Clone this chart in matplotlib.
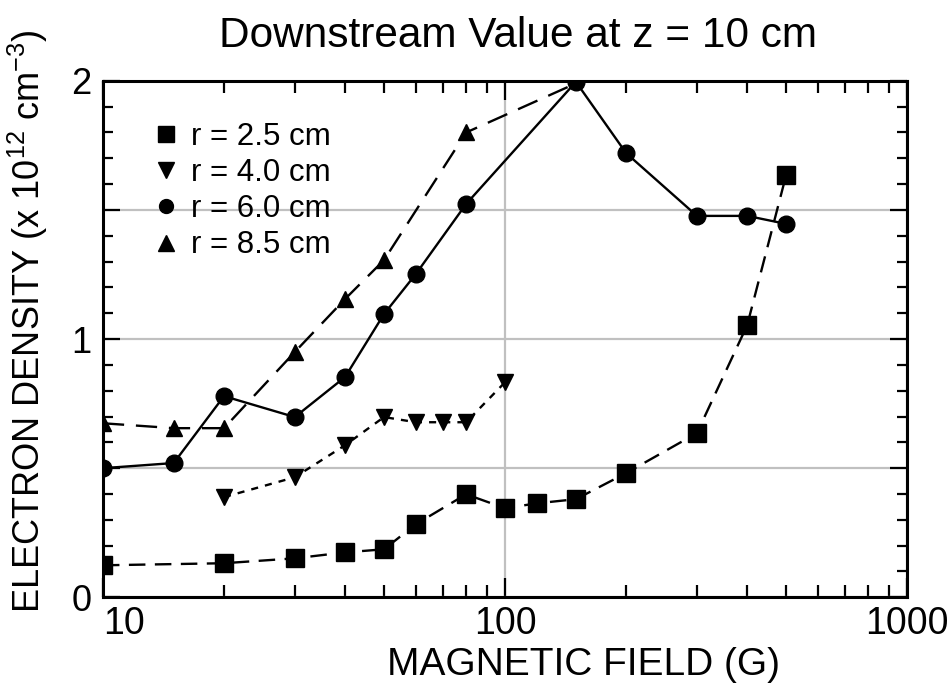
import numpy as np
import matplotlib
matplotlib.use("Agg")
import matplotlib.pyplot as plt
from matplotlib.ticker import MultipleLocator, FuncFormatter, NullFormatter, LogLocator

plt.rcParams['font.family'] = ['Liberation Sans', 'DejaVu Sans']
plt.rcParams['mathtext.fontset'] = 'custom'
plt.rcParams['mathtext.rm'] = 'Liberation Sans'
plt.rcParams['mathtext.default'] = 'regular'

# r = 2.5 cm
b_sq = [10, 20, 30, 40, 50, 60, 80, 100, 120, 150, 200, 300, 400, 500]
n_sq = [0.124, 0.132, 0.151, 0.174, 0.186, 0.283, 0.399, 0.345, 0.364, 0.38, 0.481, 0.636, 1.054, 1.636]

# r = 4.0 cm
b_dn = [20, 30, 40, 50, 60, 70, 80, 100]
n_dn = [0.388, 0.465, 0.589, 0.698, 0.678, 0.678, 0.678, 0.833]

# r = 6.0 cm
b_ci = [10, 15, 20, 30, 40, 50, 60, 80, 150, 200, 300, 400, 500]
n_ci = [0.5, 0.52, 0.779, 0.698, 0.853, 1.097, 1.252, 1.523, 1.996, 1.72, 1.477, 1.477, 1.446]

# r = 8.5 cm (last point hidden under the peak circle)
b_up = [10, 15, 20, 30, 40, 50, 80, 150]
n_up = [0.674, 0.655, 0.655, 0.95, 1.155, 1.306, 1.80, 1.99]

labels = ['r = 2.5 cm', 'r = 4.0 cm', 'r = 6.0 cm', 'r = 8.5 cm']

fig = plt.figure(figsize=(9.53, 6.85), dpi=100)
ax = fig.add_axes([0.108, 0.128, 0.844, 0.754])

ax.plot(b_sq, n_sq, color='k', lw=1.7, ls=(0, (7, 4)), marker='s', ms=13, zorder=3)
ax.plot(b_dn, n_dn, color='k', lw=1.7, ls=(0, (3, 3)), marker='v', ms=12, zorder=3)
ax.plot(b_ci, n_ci, color='k', lw=1.7, ls='-', marker='o', ms=12, zorder=4)
ax.plot(b_up, n_up, color='k', lw=1.7, ls=(0, (9, 5)), marker='^', ms=12,
        markevery=slice(0, len(b_up) - 1), zorder=3)

# legend: markers only
handles = [plt.Line2D([], [], color='k', ls='none', marker=m, ms=ms)
           for m, ms in zip(['s', 'v', 'o', '^'], [12, 11, 10, 11])]
ax.legend(handles, labels, loc='upper left', bbox_to_anchor=(0.044, 0.945),
          frameon=False, fontsize=22.5, handletextpad=0.3, labelspacing=0.2,
          handlelength=1.0, borderaxespad=0)

ax.set_xscale('log')
ax.set_xlim(10, 1000)
ax.set_ylim(0, 2)

ax.xaxis.set_major_locator(LogLocator(base=10, numticks=5))
ax.xaxis.set_minor_locator(LogLocator(base=10, subs=np.arange(2, 10), numticks=20))
ax.xaxis.set_minor_formatter(NullFormatter())
ax.xaxis.set_major_formatter(FuncFormatter(lambda v, p: '%d' % round(v)))

ax.yaxis.set_major_locator(MultipleLocator(0.5))
ax.yaxis.set_minor_locator(MultipleLocator(0.1))
ax.yaxis.set_major_formatter(FuncFormatter(
    lambda v, p: '%d' % round(v) if abs(v - round(v)) < 1e-6 else ''))

ax.tick_params(which='both', direction='in', top=True, right=True, width=1.6)
ax.tick_params(axis='x', which='major', length=14, pad=6, labelsize=27)
ax.tick_params(axis='x', which='minor', length=8.5)
ax.tick_params(axis='y', which='major', length=12, pad=8, labelsize=26)
ax.tick_params(axis='y', which='minor', length=7)

# first x label sits to the right of the corner, like the original
fig.canvas.draw()
for t in ax.get_xticklabels():
    if t.get_text() == '10':
        t.set_horizontalalignment('left')

ax.grid(True, which='major', color='#c0c0c0', lw=1.6, zorder=0)
ax.set_axisbelow(True)
for s in ax.spines.values():
    s.set_linewidth(2.2)

ax.set_title('Downstream Value at z = 10 cm', fontsize=30.5, pad=24, x=0.516)
ax.set_xlabel('MAGNETIC FIELD (G)', fontsize=28, labelpad=4, x=0.597)
ax.set_ylabel('ELECTRON DENSITY (x 10$^{12}$ cm$^{-3}$)', fontsize=26)
ax.yaxis.set_label_coords(-0.066, 0.535)

fig.savefig('out.png', dpi=100)
